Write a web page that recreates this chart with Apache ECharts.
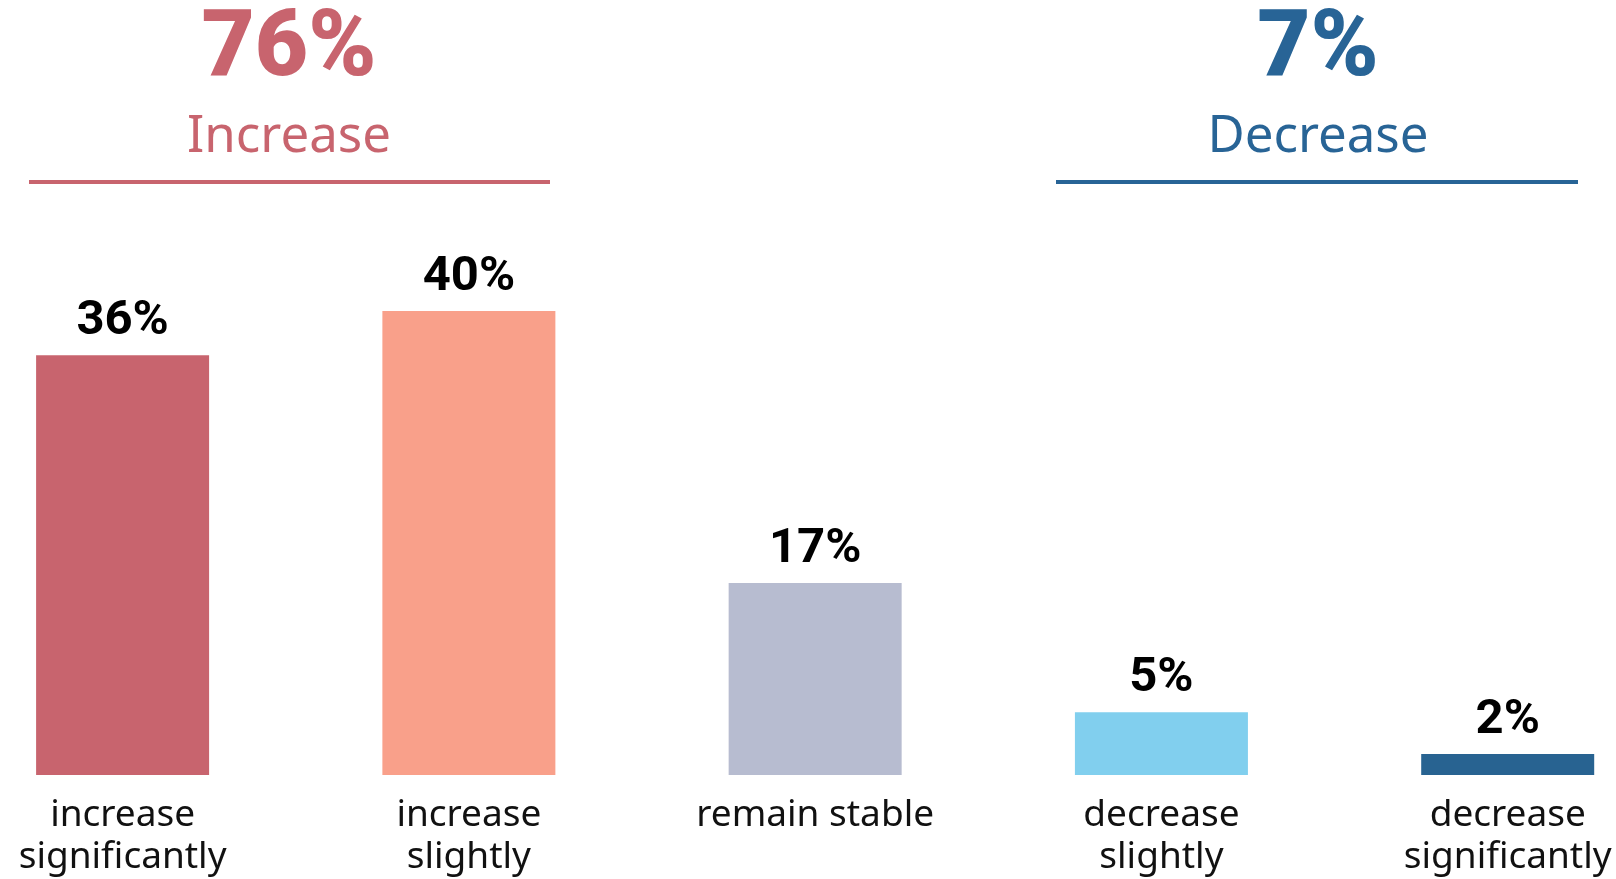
<!DOCTYPE html>
<html>
<head>
<meta charset="utf-8">
<script src="https://cdn.jsdelivr.net/npm/echarts@6/dist/echarts.min.js"></script>
<style>
html,body{margin:0;padding:0;background:#fff;}
#chart{width:1616px;height:879px;}
</style>
</head>
<body>
<div id="chart"></div>
<script>
const categories = ['increase\nsignificantly', 'increase\nslightly', 'remain stable', 'decrease\nslightly', 'decrease\nsignificantly'];
const values = [36.1, 39.9, 16.5, 5.4, 1.8];
const barColors = ['#C8646E', '#F9A08A', '#B7BCD0', '#81CFEE', '#286391'];
const groupTotals = ['76%', '7%'];
const groupNames = ['Increase', 'Decrease'];
const groupColors = ['#C8646E', '#286496'];

const chart = echarts.init(document.getElementById('chart'));
const labelFont = '"Noto Sans", "Open Sans", sans-serif';

function header(i, cx, x1, x2) {
  return [
    {
      type: 'text', x: cx, y: 52,
      style: { text: groupTotals[i], fill: groupColors[i], font: '900 92px Roboto, sans-serif', align: 'center', verticalAlign: 'middle' }
    },
    {
      type: 'text', x: cx, y: 137,
      style: { text: groupNames[i], fill: groupColors[i], font: '51px ' + labelFont, align: 'center', verticalAlign: 'middle' }
    },
    {
      type: 'line', shape: { x1: x1, y1: 182, x2: x2, y2: 182 },
      style: { stroke: groupColors[i], lineWidth: 4 }
    }
  ];
}

chart.setOption({
  animation: false,
  backgroundColor: '#fff',
  grid: { left: 122.6, right: 108.3, top: 193.5, bottom: 104, outerBoundsMode: 'none' },
  xAxis: {
    type: 'category',
    data: categories,
    boundaryGap: false,
    axisLine: { show: false },
    axisTick: { show: false },
    axisLabel: {
      interval: 0,
      margin: 19,
      color: '#111',
      fontFamily: labelFont,
      fontSize: 37,
      lineHeight: 42
    }
  },
  yAxis: {
    type: 'value',
    min: 0,
    max: 50,
    show: false,
    splitLine: { show: false }
  },
  series: [{
    type: 'bar',
    data: values.map((v, i) => ({ value: v, itemStyle: { color: barColors[i] } })),
    barWidth: 173,
    label: {
      show: true,
      position: 'top',
      distance: 9,
      formatter: p => Math.round(p.value) + '%',
      color: '#000',
      fontFamily: 'Roboto, sans-serif',
      fontWeight: 'bold',
      fontSize: 49
    }
  }],
  graphic: [].concat(header(0, 289, 29, 550), header(1, 1318, 1056, 1578))
});
</script>
</body>
</html>
